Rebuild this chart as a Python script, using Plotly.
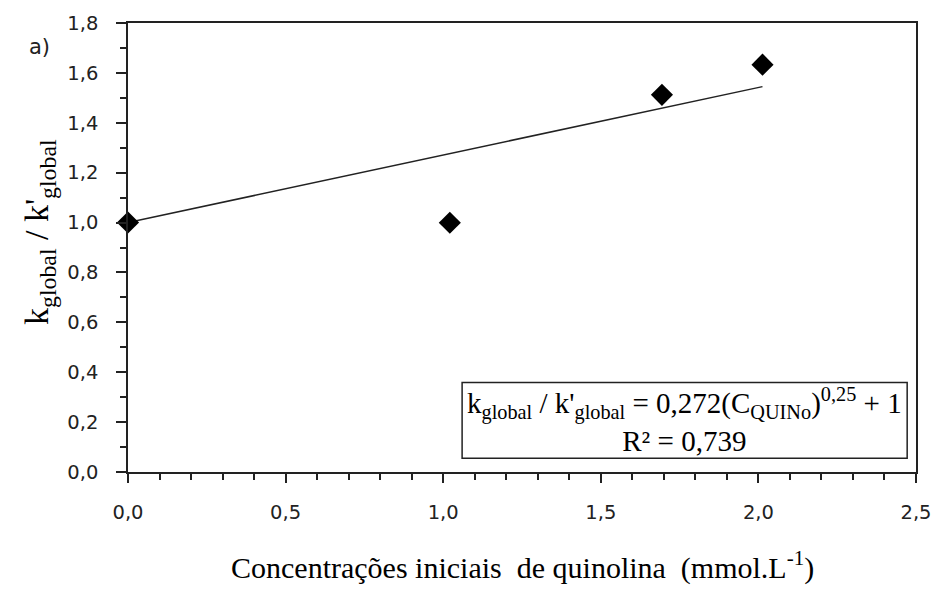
import plotly.graph_objects as go

# Data
conc = [0.0, 1.021, 1.694, 2.013]
ratio = [1.0, 0.999, 1.512, 1.633]
fit_x = [0.0, 2.013]
fit_y = [1.0, 1.545]
x_ticks = [0.0, 0.5, 1.0, 1.5, 2.0, 2.5]
x_labels = ["0,0", "0,5", "1,0", "1,5", "2,0", "2,5"]
y_ticks = [0.0, 0.2, 0.4, 0.6, 0.8, 1.0, 1.2, 1.4, 1.6, 1.8]
y_labels = ["0,0", "0,2", "0,4", "0,6", "0,8", "1,0", "1,2", "1,4", "1,6", "1,8"]

W, H = 944, 589
L, R, T, B = 127.5, 22, 16, 117
PW, PH = W - L - R, H - T - B

fig = go.Figure()
fig.add_trace(go.Scatter(x=fit_x, y=fit_y, mode="lines",
                         line=dict(color="#222", width=1.5), showlegend=False))
fig.add_trace(go.Scatter(x=conc, y=ratio, mode="markers", cliponaxis=False,
                         marker=dict(symbol="diamond", size=17, color="black"),
                         showlegend=False))

tickfont = dict(family="DejaVu Sans", size=19.5, color="#222")
serif = "Liberation Serif"

fig.update_xaxes(range=[0, 2.5], tickvals=x_ticks, ticktext=x_labels,
                 showgrid=False, zeroline=False, showline=True, linecolor="#222",
                 linewidth=1.5, mirror=True, ticks="outside", ticklen=9,
                 tickwidth=1.5, tickcolor="#222", tickfont=tickfont,
                 ticklabelstandoff=13,
                 minor=dict(dtick=0.1, ticks="outside", ticklen=6,
                            tickwidth=1.5, tickcolor="#222", showgrid=False))
fig.update_yaxes(range=[0, 1.8], tickvals=y_ticks, ticktext=y_labels,
                 showgrid=False, zeroline=False, showline=True, linecolor="#222",
                 linewidth=1.5, mirror=True, ticks="outside", ticklen=10,
                 tickwidth=1.5, tickcolor="#222", tickfont=tickfont,
                 ticklabelstandoff=14,
                 minor=dict(dtick=0.1, ticks="outside", ticklen=6,
                            tickwidth=1.5, tickcolor="#222", showgrid=False))

# equation box
fig.add_shape(type="rect", xref="x", yref="y", x0=1.06, x1=2.472,
              y0=0.055, y1=0.359, line=dict(color="#222", width=1.5),
              fillcolor="white")
fig.add_annotation(xref="x", yref="y", x=1.765, y=0.209,
                   text="k<sub>global</sub> / k'<sub>global</sub> = 0,272(C<sub>QUINo</sub>)<sup>0,25</sup> + 1<br>R² = 0,739",
                   showarrow=False, font=dict(family=serif, size=29, color="black"),
                   align="center")

# axis titles
fig.add_annotation(xref="paper", yref="paper", x=0.5, y=-(567 - (H - B)) / PH,
                   text="Concentrações iniciais\u00a0 de quinolina\u00a0 (mmol.L<sup>-1</sup>)",
                   showarrow=False, font=dict(family=serif, size=30, color="black"),
                   yanchor="middle")
fig.add_annotation(xref="paper", yref="paper", x=-(L - 38) / PW,
                   y=((H - B) - 228) / PH,
                   text="k<sub>global</sub> / k'<sub>global</sub>", textangle=-90,
                   showarrow=False, font=dict(family=serif, size=34, color="black"),
                   xanchor="center", yanchor="middle")
fig.add_annotation(xref="paper", yref="paper", x=-(L - 38) / PW,
                   y=((H - B) - 40) / PH, text="a)", showarrow=False,
                   font=dict(family="DejaVu Sans", size=21, color="#222"),
                   xanchor="center", yanchor="middle")

fig.update_layout(width=W, height=H, margin=dict(l=L, r=R, t=T, b=B),
                  plot_bgcolor="white", paper_bgcolor="white")
fig.write_html("out.html")
